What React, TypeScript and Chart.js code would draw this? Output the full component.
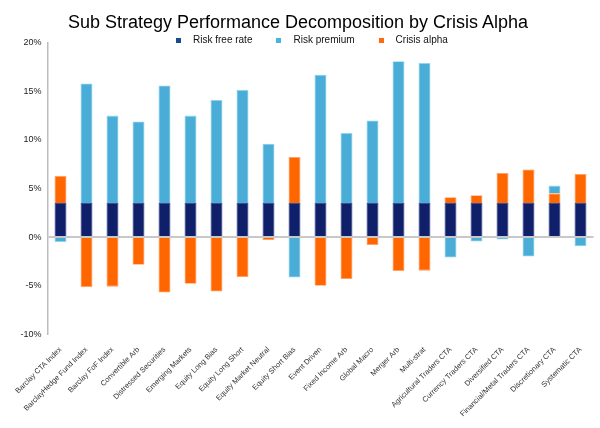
import React, { useEffect, useRef } from "react";
import { Chart, registerables } from "chart.js";

Chart.register(...registerables);

const categories = [
  "Barclay CTA Index",
  "BarclayHedge Fund Index",
  "Barclay FoF Index",
  "Convertible Arb",
  "Distressed Securities",
  "Emerging Markets",
  "Equity Long Bias",
  "Equity Long Short",
  "Equity Market Neutral",
  "Equity Short Bias",
  "Event Driven",
  "Fixed Income Arb",
  "Global Macro",
  "Merger Arb",
  "Multi-strat",
  "Agricultural Traders CTA",
  "Currency Traders CTA",
  "Diversified CTA",
  "Financial/Metal Traders CTA",
  "Discretionary CTA",
  "Systematic CTA",
];

const riskFreeRate = [3.5, 3.5, 3.5, 3.5, 3.5, 3.5, 3.5, 3.5, 3.5, 3.5, 3.5, 3.5, 3.5, 3.5, 3.5, 3.5, 3.5, 3.5, 3.5, 3.5, 3.5];
const riskPremium = [-0.5, 12.3, 9.0, 8.4, 12.1, 9.0, 10.6, 11.65, 6.1, -4.15, 13.2, 7.2, 8.5, 14.6, 14.4, -2.1, -0.45, -0.25, -2.0, 0.8, -0.95];
const crisisAlpha = [2.8, -5.15, -5.1, -2.85, -5.7, -4.8, -5.6, -4.1, -0.3, 4.75, -5.0, -4.3, -0.8, -3.5, -3.45, 0.6, 0.8, 3.1, 3.45, 1.0, 3.0];

const yTicks = [-10, -5, 0, 5, 10, 15, 20];

const TITLE = "Sub Strategy Performance Decomposition by Crisis Alpha";
const FONT = "'Liberation Sans', Arial, Helvetica, sans-serif";

const COLORS = {
  rf: "#0f1f6a",
  rp: "#4aadd8",
  ca: "#ff6600",
};

const legendItems = [
  { label: "Risk free rate", color: "#184a8c" },
  { label: "Risk premium", color: "#4ab3e0" },
  { label: "Crisis alpha", color: "#ff6a10" },
];

export default function App() {
  const ref = useRef<HTMLCanvasElement | null>(null);

  useEffect(() => {
    document.body.style.margin = "0";
    const canvas = ref.current;
    if (!canvas) return;
    const chart = new Chart(canvas, {
      type: "bar",
      data: {
        labels: categories,
        datasets: [
          {
            label: "Risk free rate",
            data: riskFreeRate,
            backgroundColor: COLORS.rf,
            borderColor: "#3d4f95",
            borderWidth: 0.8,
          },
          {
            label: "Crisis alpha",
            data: crisisAlpha,
            backgroundColor: COLORS.ca,
            borderColor: "#ffa066",
            borderWidth: 0.8,
          },
          {
            label: "Risk premium",
            data: riskPremium,
            backgroundColor: COLORS.rp,
            borderColor: "#8fd3f0",
            borderWidth: 0.8,
          },
        ],
      },
      options: {
        responsive: false,
        animation: false,
        devicePixelRatio: window.devicePixelRatio || 1,
        layout: { padding: { top: 42.7, right: 6.5, left: 0, bottom: 0 } },
        datasets: {
          bar: { categoryPercentage: 1, barPercentage: 0.46 },
        },
        plugins: {
          legend: { display: false },
          title: { display: false },
          tooltip: { enabled: false },
        },
        scales: {
          x: {
            stacked: true,
            grid: { display: false },
            border: { display: false },
            afterFit: (scale: any) => {
              scale.height = 93.7;
            },
            ticks: {
              autoSkip: false,
              minRotation: 45,
              maxRotation: 45,
              padding: 3,
              color: "#333",
              font: { family: FONT, size: 7.5 },
            },
          },
          y: {
            stacked: true,
            min: -10,
            max: 20,
            afterFit: (scale: any) => {
              scale.width = 47.5;
            },
            afterBuildTicks: (scale: any) => {
              scale.ticks = yTicks.map((v) => ({ value: v }));
            },
            grid: {
              drawTicks: false,
              lineWidth: 2,
              color: (ctx: any) =>
                ctx.tick && ctx.tick.value === 0 ? "#c8c8c8" : "rgba(0,0,0,0)",
            },
            border: { display: true, color: "#bdbdbd", width: 1.5 },
            ticks: {
              padding: 6,
              color: "#222",
              font: { family: FONT, size: 9 },
              callback: (v: any) => `${v}%`,
            },
          },
        },
      },
    });
    return () => chart.destroy();
  }, []);

  return (
    <div style={{ position: "relative", width: 600, height: 428, background: "#fff" }}>
      <canvas ref={ref} width={600} height={428} style={{ position: "absolute", left: 0, top: 0 }} />
      <div
        style={{
          position: "absolute",
          left: 0,
          width: 596,
          top: 13,
          textAlign: "center",
          fontFamily: FONT,
          fontSize: 18,
          lineHeight: "18px",
          color: "#000",
          whiteSpace: "nowrap",
        }}
      >
        {TITLE}
      </div>
      <div
        style={{
          position: "absolute",
          left: 176,
          top: 34,
          height: 12,
          display: "flex",
          alignItems: "center",
          fontFamily: FONT,
          fontSize: 10,
          lineHeight: "12px",
          color: "#111",
          whiteSpace: "nowrap",
        }}
      >
        {legendItems.map((it) => (
          <div key={it.label} style={{ display: "flex", alignItems: "center", marginRight: 24 }}>
            <span
              style={{
                display: "inline-block",
                width: 5,
                height: 5,
                background: it.color,
                marginRight: 12,
              }}
            />
            <span>{it.label}</span>
          </div>
        ))}
      </div>
    </div>
  );
}
